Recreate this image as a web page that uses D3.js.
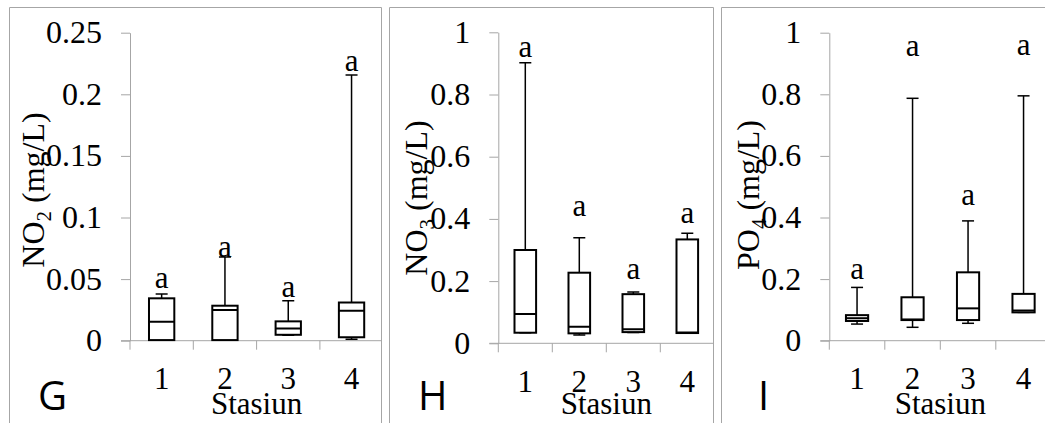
<!DOCTYPE html>
<html>
<head>
<meta charset="utf-8">
<script src="https://cdn.jsdelivr.net/npm/d3@7"></script>
<style>
  body { margin: 0; background: #fff; }
  svg { display: block; }
</style>
</head>
<body>
<svg width="1045" height="423"></svg>
<script>
// stations on the x axis
const stations = ["1", "2", "3", "4"];

// NO2 (mg/L) - panel G
const no2Ticks = [0, 0.05, 0.1, 0.15, 0.2, 0.25];
const no2Min = [0.0005, 0.0005, 0.0045, 0.0012];
const no2Q1 = [0.0005, 0.0005, 0.0048, 0.0028];
const no2Median = [0.0154, 0.0249, 0.0100, 0.0244];
const no2Q3 = [0.0344, 0.0284, 0.0157, 0.0310];
const no2Max = [0.038, 0.068, 0.0325, 0.2157];
const no2Letter = [0.0425, 0.068, 0.0357, 0.219];

// NO3 (mg/L) - panel H
const no3Ticks = [0, 0.2, 0.4, 0.6, 0.8, 1];
const no3Min = [0.034, 0.027, 0.035, 0.032];
const no3Q1 = [0.034, 0.032, 0.036, 0.033];
const no3Median = [0.094, 0.053, 0.045, 0.035];
const no3Q3 = [0.300, 0.227, 0.158, 0.334];
const no3Max = [0.902, 0.339, 0.165, 0.354];
const no3Letter = [0.92, 0.408, 0.206, 0.388];

// PO4 (mg/L) - panel I
const po4Ticks = [0, 0.2, 0.4, 0.6, 0.8, 1];
const po4Min = [0.054, 0.0435, 0.0565, 0.092];
const po4Q1 = [0.064, 0.067, 0.067, 0.092];
const po4Median = [0.073, 0.069, 0.105, 0.098];
const po4Q3 = [0.083, 0.141, 0.222, 0.152];
const po4Max = [0.173, 0.787, 0.389, 0.795];
const po4Letter = [0.199, 0.925, 0.44, 0.928];

const grey = "#a6a6a6";
const serif = "Liberation Serif";

const panels = [
  {letter: "G", name: "NO", sub: "2", ticks: no2Ticks, min: no2Min, q1: no2Q1, med: no2Median, q3: no2Q3, max: no2Max, lab: no2Letter,
   left: 9.5, right: 381.5, axisX: 130, bandW: 63.3, top: 32.7, zero: 340.7, titleX: 43.5, titleY: 190, letterX: 38},
  {letter: "H", name: "NO", sub: "3", ticks: no3Ticks, min: no3Min, q1: no3Q1, med: no3Median, q3: no3Q3, max: no3Max, lab: no3Letter,
   left: 389.5, right: 713.5, axisX: 498.3, bandW: 54, top: 32.3, zero: 343.3, titleX: 426.5, titleY: 198, letterX: 418},
  {letter: "I", name: "PO", sub: "4", ticks: po4Ticks, min: po4Min, q1: po4Q1, med: po4Median, q3: po4Q3, max: po4Max, lab: po4Letter,
   left: 721.5, right: 1060, axisX: 829.3, bandW: 55.5, top: 32.7, zero: 340.7, titleX: 759, titleY: 195, letterX: 758}
];

const svg = d3.select("svg");

panels.forEach((p, k) => {
  svg.append("clipPath").attr("id", "clip" + k)
    .append("rect").attr("x", p.left).attr("y", 0)
    .attr("width", p.right - p.left).attr("height", 423);

  const g = svg.append("g").attr("clip-path", `url(#clip${k})`);

  const x = d3.scaleBand().domain(stations).range([p.axisX, p.axisX + 4 * p.bandW]).padding(0);
  const y = d3.scaleLinear().domain([0, p.ticks[p.ticks.length - 1]]).range([p.zero, p.top]);
  const bw = x.bandwidth();

  // y axis
  const yAxis = g.append("g")
    .attr("transform", `translate(${p.axisX},0)`)
    .call(d3.axisLeft(y).tickValues(p.ticks).tickSize(9).tickSizeOuter(0).tickPadding(19)
      .tickFormat(d => String(d)));
  yAxis.attr("font-family", serif).attr("font-size", 32);
  yAxis.select(".domain").attr("stroke", grey);
  yAxis.selectAll(".tick line").attr("stroke", grey);
  yAxis.selectAll(".tick text").attr("fill", "#000")
    .attr("font-family", serif).attr("font-size", 32).attr("dy", "0.31em");

  // x axis line with boundary ticks
  g.append("line")
    .attr("x1", p.axisX - 9).attr("x2", p.axisX + 4 * p.bandW + 20)
    .attr("y1", y(0)).attr("y2", y(0))
    .attr("stroke", grey);
  const bounds = stations.map(s => x(s)).concat([x.range()[1]]);
  g.selectAll(".xtick").data(bounds).join("line")
    .attr("x1", d => d).attr("x2", d => d)
    .attr("y1", y(0)).attr("y2", y(0) + 9)
    .attr("stroke", grey);
  g.selectAll(".xlab").data(stations).join("text")
    .attr("x", d => x(d) + bw / 2)
    .attr("y", y(0) + 48.5)
    .attr("text-anchor", "middle")
    .attr("font-family", serif).attr("font-size", 31)
    .text(d => d);

  // boxes
  const boxW = 0.4 * bw, capW = 12;
  const rows = stations.map((s, i) => ({s, min: p.min[i], q1: p.q1[i], med: p.med[i], q3: p.q3[i], max: p.max[i], lab: p.lab[i]}));
  const box = g.selectAll(".box").data(rows).join("g")
    .attr("transform", d => `translate(${x(d.s) + bw / 2},0)`);

  box.append("line")
    .attr("y1", d => y(d.max)).attr("y2", d => y(d.q3))
    .attr("stroke", "#000").attr("stroke-width", 1.5);
  box.append("line")
    .attr("y1", d => y(d.q1)).attr("y2", d => y(d.min))
    .attr("stroke", "#000").attr("stroke-width", 1.5);
  box.append("line")
    .attr("x1", -capW / 2).attr("x2", capW / 2)
    .attr("y1", d => y(d.max)).attr("y2", d => y(d.max))
    .attr("stroke", "#000").attr("stroke-width", 1.5);
  box.append("line")
    .attr("x1", -capW / 2).attr("x2", capW / 2)
    .attr("y1", d => y(d.min)).attr("y2", d => y(d.min))
    .attr("stroke", "#000").attr("stroke-width", 1.5);
  box.append("rect")
    .attr("x", -boxW / 2).attr("width", boxW)
    .attr("y", d => y(d.q3)).attr("height", d => y(d.q1) - y(d.q3))
    .attr("fill", "#fff").attr("stroke", "#000").attr("stroke-width", 2);
  box.append("line")
    .attr("x1", -boxW / 2).attr("x2", boxW / 2)
    .attr("y1", d => y(d.med)).attr("y2", d => y(d.med))
    .attr("stroke", "#000").attr("stroke-width", 2);
  box.append("text")
    .attr("y", d => y(d.lab))
    .attr("text-anchor", "middle")
    .attr("font-family", serif).attr("font-size", 31)
    .text("a");

  // axis titles
  const t = g.append("text")
    .attr("transform", `translate(${p.titleX},${p.titleY}) rotate(-90)`)
    .attr("text-anchor", "middle")
    .attr("font-family", serif).attr("font-size", 32);
  t.append("tspan").text(p.name);
  t.append("tspan").attr("dy", 7).attr("font-size", 21).text(p.sub);
  t.append("tspan").attr("dy", -7).text(" (mg/L)");

  g.append("text")
    .attr("x", p.axisX + 2 * p.bandW)
    .attr("y", 414)
    .attr("text-anchor", "middle")
    .attr("font-family", serif).attr("font-size", 31)
    .text("Stasiun");

  // panel letter
  g.append("text")
    .attr("x", p.letterX).attr("y", 410)
    .attr("font-family", "Open Sans").attr("font-size", 40)
    .text(p.letter);

  // panel frame
  svg.append("path")
    .attr("d", `M${p.left},423V7.5H${p.right}V423`)
    .attr("fill", "none").attr("stroke", grey);
});
</script>
</body>
</html>
